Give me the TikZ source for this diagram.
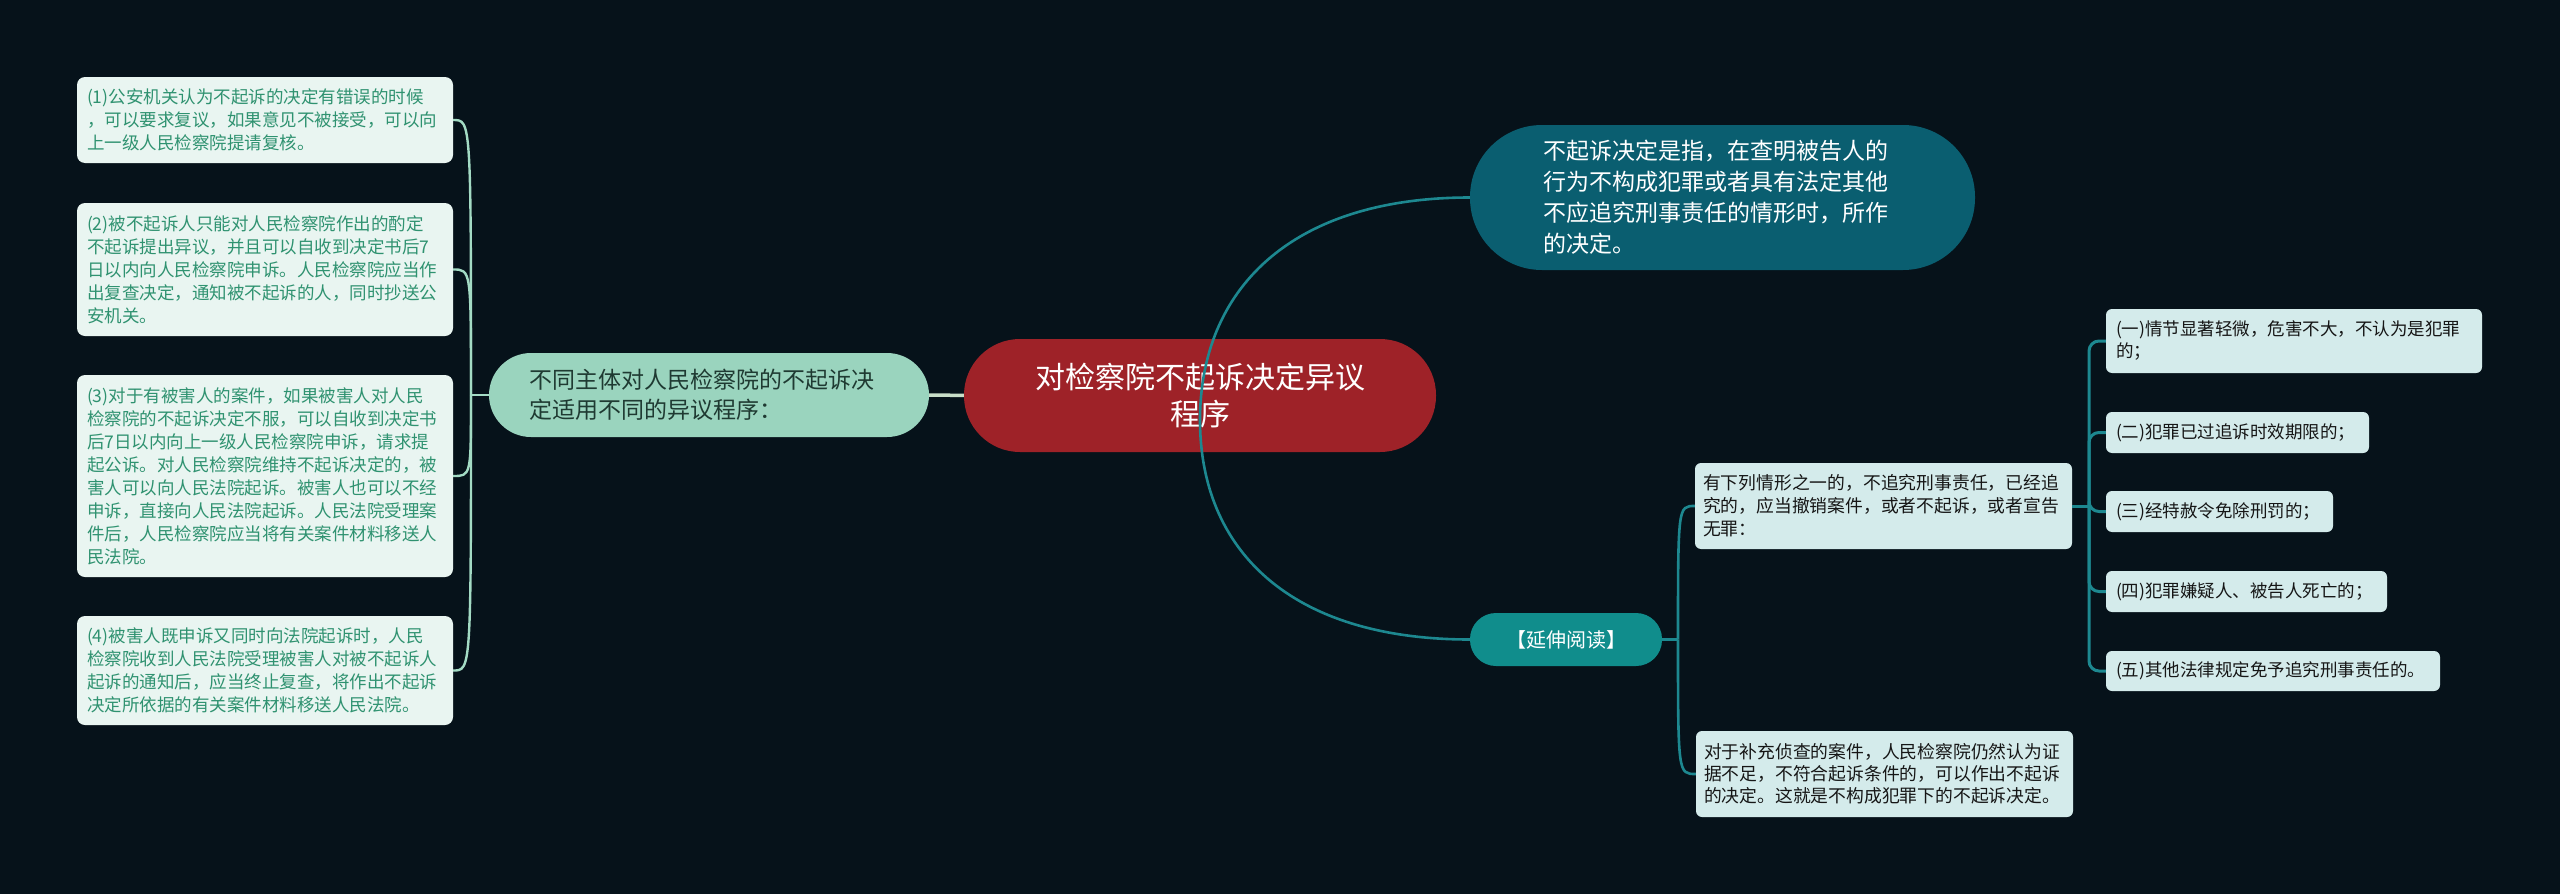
\documentclass[tikz,border=0pt]{standalone}
\usepackage{fontspec}
\setmainfont{Noto Sans CJK SC}
\usetikzlibrary{calc}
\definecolor{bgc}{HTML}{06121A}
\definecolor{centerfill}{HTML}{9E2228}
\definecolor{lmfill}{HTML}{9AD4BE}
\definecolor{lmtext}{HTML}{1F3A32}
\definecolor{leafLfill}{HTML}{E9F5F1}
\definecolor{leafLtext}{HTML}{2F9270}
\definecolor{lconnc}{HTML}{A3DBC4}
\definecolor{mlinec}{HTML}{C8DEC8}
\definecolor{topfill}{HTML}{0A5E70}
\definecolor{readfill}{HTML}{108D8C}
\definecolor{tconnc}{HTML}{1D8890}
\definecolor{rfill}{HTML}{D4EBEB}
\definecolor{rtext}{HTML}{161616}
\pgfdeclarelayer{back}
\pgfdeclarelayer{bgfill}
\pgfsetlayers{bgfill,back,main}
\begin{document}
\begin{tikzpicture}[x=1pt,y=-1pt,
  leafL/.style={fill=leafLfill, text=leafLtext, rounded corners=8pt, inner xsep=10pt, inner ysep=0pt,
    align=left, font=\fontsize{17.5}{23}\selectfont, text width=356pt, minimum height=#1},
  rbox/.style={fill=rfill, text=rtext, rounded corners=6pt, inner xsep=8pt, inner ysep=0pt,
    align=left, font=\fontsize{17.8}{23}\selectfont, text width=361pt, minimum height=86pt},
  ritem/.style={fill=rfill, text=rtext, rounded corners=6pt, inner xsep=10pt, inner ysep=0pt,
    align=left, font=\fontsize{17.5}{22}\selectfont, text width=#1},
  lconn/.style={draw=lconnc, line width=2.4pt},
  tconn/.style={draw=tconnc, line width=2.6pt},
  rconn/.style={draw=tconnc, line width=3pt},
  mline/.style={draw=mlinec, line width=3.5pt}
]
\begin{pgfonlayer}{bgfill}
\fill[bgc] (0,0) rectangle (2560,894);
\end{pgfonlayer}
\useasboundingbox (0,0) rectangle (2560,894);

% left leaves
\node[leafL=86pt] (b1) at (265,120) {(1)公安机关认为不起诉的决定有错误的时候\\，可以要求复议，如果意见不被接受，可以向\\上一级人民检察院提请复核。};
\node[leafL=133pt] (b2) at (265,269.5) {(2)被不起诉人只能对人民检察院作出的酌定\\不起诉提出异议，并且可以自收到决定书后7\\日以内向人民检察院申诉。人民检察院应当作\\出复查决定，通知被不起诉的人，同时抄送公\\安机关。};
\node[leafL=202pt] (b3) at (265,476) {(3)对于有被害人的案件，如果被害人对人民\\检察院的不起诉决定不服，可以自收到决定书\\后7日以内向上一级人民检察院申诉，请求提\\起公诉。对人民检察院维持不起诉决定的，被\\害人可以向人民法院起诉。被害人也可以不经\\申诉，直接向人民法院起诉。人民法院受理案\\件后，人民检察院应当将有关案件材料移送人\\民法院。};
\node[leafL=109pt] (b4) at (265,670.5) {(4)被害人既申诉又同时向法院起诉时，人民\\检察院收到人民法院受理被害人对被不起诉人\\起诉的通知后，应当终止复查，将作出不起诉\\决定所依据的有关案件材料移送人民法院。};

% left main
\node[fill=lmfill, text=lmtext, rounded corners=42pt, minimum height=84pt, inner xsep=40pt, inner ysep=0pt,
  text width=360pt, align=left, font=\fontsize{23}{30}\selectfont] (lm) at (709,395)
  {不同主体对人民检察院的不起诉决\\定适用不同的异议程序：};

% center
\node[fill=centerfill, text=white, rounded corners=56pt, minimum width=472pt, minimum height=113pt,
  inner sep=0pt, align=center, font=\fontsize{30}{37}\selectfont] (c) at (1200,395.5)
  {对检察院不起诉决定异议\\程序};

% top right
\node[fill=topfill, text=white, rounded corners=72pt, minimum height=145pt, inner xsep=73pt, inner ysep=0pt,
  text width=359pt, align=left, font=\fontsize{23}{31}\selectfont] (t) at (1722.5,197.5)
  {不起诉决定是指，在查明被告人的\\行为不构成犯罪或者具有法定其他\\不应追究刑事责任的情形时，所作\\的决定。};

% extended reading
\node[fill=readfill, text=white, rounded corners=26pt, minimum width=192pt, minimum height=53pt,
  inner sep=0pt, font=\fontsize{20}{24}\selectfont] (y) at (1566,639.5) {【延伸阅读】};

% right boxes
\node[rbox] (yx) at (1883.5,506) {有下列情形之一的，不追究刑事责任，已经追\\究的，应当撤销案件，或者不起诉，或者宣告\\无罪：};
\node[rbox, font=\fontsize{17.8}{22}\selectfont] (bc) at (1884.5,774) {对于补充侦查的案件，人民检察院仍然认为证\\据不足，不符合起诉条件的，可以作出不起诉\\的决定。这就是不构成犯罪下的不起诉决定。};

\node[ritem=356pt, minimum height=64pt] (i1) at (2294,341) {(一)情节显著轻微，危害不大，不认为是犯罪\\的；};
\node[ritem=243pt, minimum height=41pt] (i2) at (2237.5,432.5) {(二)犯罪已过追诉时效期限的；};
\node[ritem=207pt, minimum height=41pt] (i3) at (2219.5,511.5) {(三)经特赦令免除刑罚的；};
\node[ritem=261pt, minimum height=41pt] (i4) at (2246.5,591.5) {(四)犯罪嫌疑人、被告人死亡的；};
\node[ritem=314pt, minimum height=40pt] (i5) at (2273,671) {(五)其他法律规定免予追究刑事责任的。};

% connectors
\begin{pgfonlayer}{back}
\draw[mline] (lm.center) -- (c.center);
\end{pgfonlayer}

\coordinate (jl) at (471,395);
\draw[lconn] (lm.west) -- (jl);
\foreach \b in {b1,b2,b3,b4}
  \draw[lconn] (jl) .. controls (jl |- \b.east) and (jl |- \b.east) .. (\b.east);

\coordinate (hub) at (1200,420);
\draw[tconn] (hub) .. controls (1200,290) and (1290,197.5) .. (t.west);
\draw[tconn] (hub) .. controls (1200,550) and (1290,639.5) .. (y.west);

\coordinate (jr) at (1678,639.5);
\draw[tconn] (y.east) -- (jr);
\draw[tconn] (jr) .. controls (jr |- yx.west) and (jr |- yx.west) .. (yx.west);
\draw[tconn] (jr) .. controls (jr |- bc.west) and (jr |- bc.west) .. (bc.west);

\coordinate (bk) at (2089,506);
\draw[rconn] (yx.east) -- (bk);
\foreach \i in {i1,i2,i3,i4,i5}
  \draw[rconn, rounded corners=10pt] (bk) |- (\i.west);
\end{tikzpicture}
\end{document}
